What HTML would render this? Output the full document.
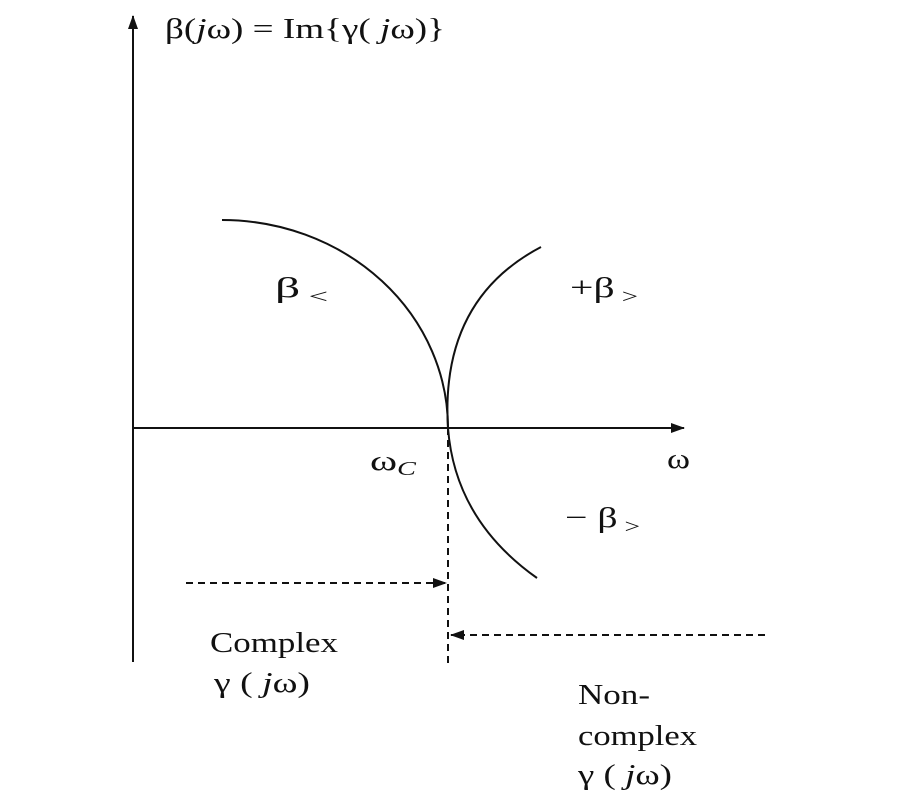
<!DOCTYPE html>
<html><head><meta charset="utf-8"><style>
html,body{margin:0;padding:0;background:#fff;}
svg text{font-family:"Liberation Serif",serif;fill:#111;}
</style></head><body>
<svg width="900" height="800" viewBox="0 0 900 800" xmlns="http://www.w3.org/2000/svg">
<defs>
<marker id="a" markerWidth="14" markerHeight="10" refX="13" refY="5" orient="auto" markerUnits="userSpaceOnUse">
<path d="M0,0 L14,5 L0,10 Z" fill="#111"/></marker>
</defs>
<g stroke="#111" stroke-width="2" fill="none">
<line x1="133" y1="662" x2="133" y2="16" marker-end="url(#a)"/>
<line x1="133" y1="428" x2="684" y2="428" marker-end="url(#a)"/>
<path d="M222,220 A226,208 0 0 1 448,428"/>
<path d="M541,247 Q440,300 448,428 Q455,520 537,578"/>
<g stroke-dasharray="7,5">
<line x1="186" y1="583" x2="446" y2="583" marker-end="url(#a)"/>
<line x1="448" y1="428" x2="448" y2="666"/>
<line x1="765" y1="635" x2="451" y2="635" marker-end="url(#a)"/>
</g>
</g>
<g font-size="29">
<text x="165" y="38" textLength="280" lengthAdjust="spacingAndGlyphs">β(<tspan font-style="italic">j</tspan>ω) = Im{γ( <tspan font-style="italic">j</tspan>ω)}</text>
<text x="275" y="297" textLength="53" lengthAdjust="spacingAndGlyphs">β<tspan font-size="20" dy="6"> &lt;</tspan></text>
<text x="570" y="297" textLength="68" lengthAdjust="spacingAndGlyphs">+β<tspan font-size="20" dy="6"> &gt;</tspan></text>
<text x="667" y="468" textLength="23" lengthAdjust="spacingAndGlyphs">ω</text>
<text x="370" y="470" textLength="46" lengthAdjust="spacingAndGlyphs">ω<tspan font-size="20" font-style="italic" dy="5">C</tspan></text>
<text x="565" y="527" textLength="75" lengthAdjust="spacingAndGlyphs">− β<tspan font-size="20" dy="6"> &gt;</tspan></text>
<text x="210" y="652" textLength="128" lengthAdjust="spacingAndGlyphs">Complex</text>
<text x="214" y="692" textLength="96" lengthAdjust="spacingAndGlyphs">γ ( <tspan font-style="italic">j</tspan>ω)</text>
<text x="578" y="704" textLength="72" lengthAdjust="spacingAndGlyphs">Non-</text>
<text x="578" y="745" textLength="119" lengthAdjust="spacingAndGlyphs">complex</text>
<text x="578" y="784" textLength="94" lengthAdjust="spacingAndGlyphs">γ ( <tspan font-style="italic">j</tspan>ω)</text>
</g>
</svg>
</body></html>
